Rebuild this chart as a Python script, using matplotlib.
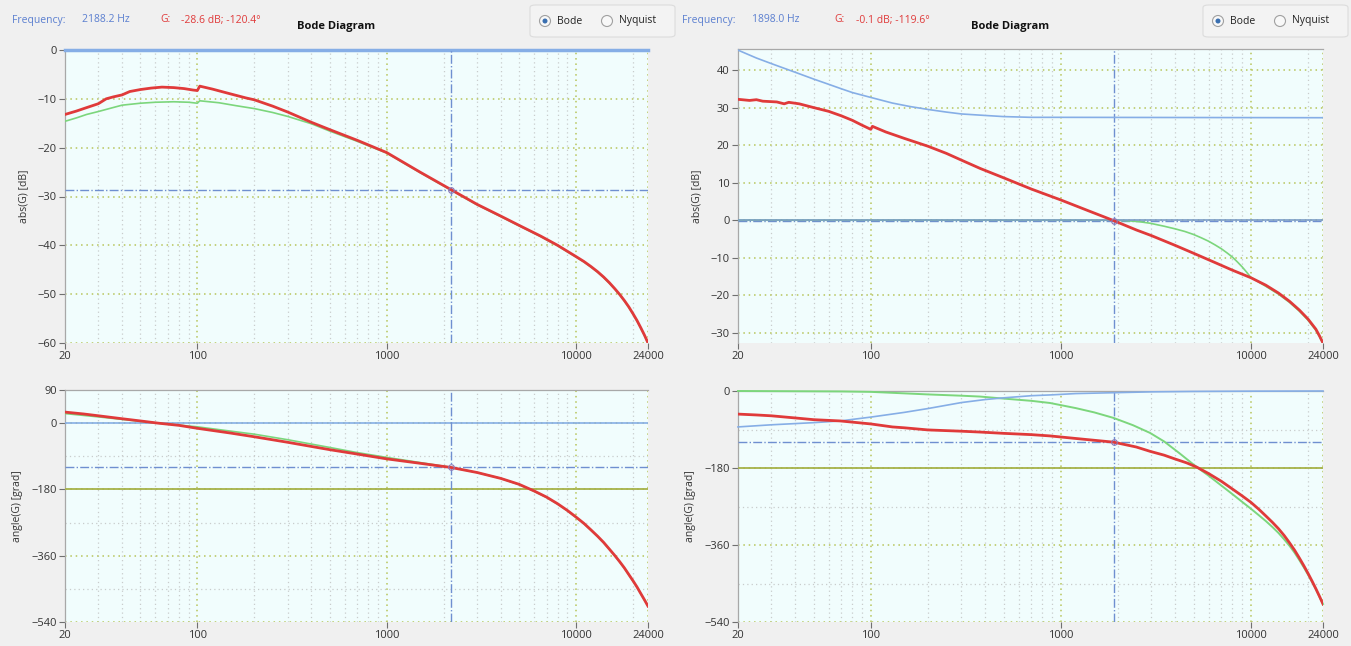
import matplotlib
matplotlib.use("Agg")
import matplotlib.pyplot as plt
from matplotlib.patches import FancyBboxPatch, Ellipse

plt.rcParams['font.family'] = ['Open Sans', 'DejaVu Sans']

# ---------- data ----------
# left: plant / cursor 2188.2 Hz
lmag_red_f = [20, 23, 26, 30, 33, 36, 40, 44, 50, 57, 65, 75, 85, 95, 100, 103, 120, 150, 180, 200,
              250, 300, 400, 500, 700, 1000, 1500, 2188, 3000, 4000, 5000, 6500, 8000, 10000, 11000, 12000,
              13000, 14000, 15000, 16000, 17000, 18000, 19000, 20000, 21000, 22000, 23000, 24000]
lmag_red = [-13.2, -12.5, -11.8, -11.0, -10.0, -9.6, -9.2, -8.5, -8.1, -7.8, -7.6, -7.7, -7.9, -8.2, -8.3,
            -7.4, -8.0, -9.0, -9.8, -10.2, -11.5, -12.7, -14.8, -16.3, -18.5, -21.0, -25.0, -28.6, -31.6,
            -34.0, -35.9, -38.1, -40.0, -42.3, -43.3, -44.35, -45.4, -46.5, -47.65, -48.85, -50.05, -51.3,
            -52.6, -54.0, -55.4, -56.9, -58.4, -60.0]
lmag_green_f = [20, 23, 26, 30, 35, 40, 50, 60, 75, 90, 100, 103, 130, 160, 200, 250, 300, 400, 500, 700,
                1000, 1500, 2188, 3000, 4000, 5000, 6500, 8000, 10000, 11000, 12000, 13000, 14000, 15000,
                16000, 17000, 18000, 19000, 20000, 21000, 22000, 23000, 24000]
lmag_green = [-14.6, -13.9, -13.2, -12.6, -11.9, -11.3, -10.9, -10.7, -10.6, -10.7, -10.9, -10.4, -10.8,
              -11.4, -12.0, -12.8, -13.6, -15.1, -16.6, -18.7, -21.1, -25.1, -28.7, -31.7, -34.1, -36.0,
              -38.2, -40.1, -42.4, -43.4, -44.45, -45.5, -46.6, -47.75, -48.95, -50.15, -51.4, -52.7,
              -54.1, -55.5, -57.0, -58.5, -60.0]

lph_red_f = [20, 25, 30, 40, 50, 62, 80, 100, 150, 200, 300, 500, 700, 1000, 1500, 2188, 3000, 4000, 5000,
             6000, 7000, 8000, 9000, 10000, 11000, 12000, 13000, 14000, 15000, 16000, 17000, 18000, 19000,
             20000, 21000, 22000, 23000, 24000]
lph_red = [30, 25, 20, 12, 6, 0, -6, -14, -27, -37, -52, -72, -84, -97, -109, -120.4, -134, -150, -166,
           -184, -201, -219, -237, -255, -272, -290, -307, -324, -342, -359, -376, -393, -411, -428, -445,
           -463, -480, -497]
lph_green_f = [20, 30, 50, 62, 100, 200, 300, 500, 700, 1000, 1500, 2188, 3000, 4000, 5000, 6000, 7000,
               8000, 9000, 10000, 11000, 12000, 13000, 14000, 15000, 16000, 17000, 18000, 19000, 20000,
               21000, 22000, 23000, 24000]
lph_green = [26, 17, 5, 0, -10, -30, -45, -66, -80, -93, -107, -120, -134, -150, -167, -185, -202, -220,
             -238, -256, -273, -291, -308, -325, -343, -360, -377, -394, -412, -429, -446, -464, -481, -497]

# right: open loop / cursor 1898.0 Hz
rmag_blue_f = [20, 25, 30, 40, 50, 60, 70, 80, 100, 130, 160, 200, 250, 300, 400, 500, 700, 1000, 24000]
rmag_blue = [45.3, 43.2, 41.7, 39.4, 37.6, 36.2, 35.0, 34.0, 32.7, 31.2, 30.3, 29.5, 28.8, 28.3, 27.9,
             27.6, 27.4, 27.4, 27.3]
rmag_red_f = [20, 23, 25, 27, 32, 35, 37, 42, 50, 60, 70, 80, 90, 100, 102, 120, 150, 200, 250, 300, 376,
              500, 700, 1000, 1400, 1898, 2500, 3000, 4000, 5000, 6500, 8000, 10000, 12000, 14000, 16000,
              18000, 20000, 22000, 23000, 24000]
rmag_red = [32.2, 31.9, 32.1, 31.7, 31.5, 31.0, 31.4, 31.0, 30.0, 29.0, 27.8, 26.6, 25.3, 24.2, 25.0, 23.5,
            21.8, 19.7, 17.8, 16.0, 13.8, 11.3, 8.3, 5.4, 2.5, -0.1, -2.6, -4.1, -6.7, -8.8, -11.3, -13.3,
            -15.3, -17.3, -19.4, -21.6, -23.9, -26.3, -29.0, -30.8, -32.7]
rmag_green_f = [20, 1898, 2200, 2600, 2950, 3500, 4000, 4500, 5000, 5500, 6000, 6500, 7000, 7500, 8000,
                8500, 9000, 9500, 10000, 12000, 14000, 16000, 18000, 20000, 22000, 23000, 24000]
rmag_green = [0, 0, -0.1, -0.4, -0.8, -1.6, -2.3, -3.0, -3.8, -4.7, -5.6, -6.6, -7.6, -8.7, -9.8,
              -11.1, -12.4, -13.8, -15.2, -17.6, -19.7, -21.9, -24.2, -26.6, -29.3, -31.0, -32.9]

rph_blue_f = [20, 30, 50, 69, 100, 150, 200, 300, 400, 500, 700, 900, 1200, 1898, 3000, 5000, 10000, 24000]
rph_blue = [-84, -79, -74, -70, -61, -50, -41, -27, -20, -16, -11, -9, -6, -4, -2, -1, -0.4, 0]
rph_red_f = [20, 25, 30, 40, 50, 69, 100, 130, 150, 200, 300, 376, 500, 700, 877, 1200, 1898, 2500, 2950,
             3500, 4000, 4600, 5200, 6000, 7000, 8000, 9000, 10000, 11000, 12000, 13000, 14000, 15000,
             16000, 17000, 18000, 19000, 20000, 21000, 22000, 23000, 24000]
rph_red = [-54, -56, -58, -63, -67, -70, -77, -84, -86, -91, -94, -96, -99, -102, -105, -111, -119.6, -131,
           -141, -150, -159, -168, -178, -193, -211, -229, -245, -260, -276, -292, -307, -322, -338, -355,
           -372, -390, -408, -426, -444, -462, -480, -498]
rph_green_f = [20, 70, 100, 200, 300, 376, 478, 700, 877, 1200, 1500, 1898, 2400, 2950, 3500, 4200, 5200,
               6000, 7000, 8000, 9000, 10000, 11000, 12000, 13000, 14000, 15000, 16000, 17000, 18000, 19000,
               20000, 21000, 22000, 23000, 24000]
rph_green = [0, -1, -2, -8, -11, -13, -17, -23, -28, -40, -50, -63, -80, -98, -118, -145, -178, -198, -221,
             -241, -259, -275, -290, -304, -318, -332, -347, -362, -378, -395, -412, -429, -446, -463, -481,
             -498]

cursors = [(2188.2, -28.6, -120.4), (1898.0, -0.1, -119.6)]
xticks = [20, 100, 1000, 10000, 24000]
xminor = [30, 40, 50, 60, 70, 80, 90, 200, 300, 400, 500, 600, 700, 800, 900,
          2000, 3000, 4000, 5000, 6000, 7000, 8000, 9000, 20000]

RED = '#e03a3a'
GREEN = '#7cd67c'
BLUE = '#86aee6'
OLIVE = '#a6b24a'
GRIDG = '#b7c45a'
GRIDM = '#c9cccc'
FACE = '#f1fdfd'
BG = '#f0f0f0'


def style(ax, ylim, yticks, yminor, ylabel):
    ax.set_facecolor(FACE)
    ax.set_xscale('log')
    ax.set_xlim(20, 24000)
    ax.set_ylim(*ylim)
    ax.set_xticks(xticks)
    ax.set_xticklabels([str(t) for t in xticks])
    ax.set_xticks(xminor, minor=True)
    ax.set_yticks(yticks)
    ax.set_yticks(yminor, minor=True)
    ax.tick_params(which='major', direction='out', length=4, color='#707070',
                   labelsize=8, labelcolor='#333333', pad=2)
    ax.tick_params(which='minor', length=0)
    ax.grid(which='major', color=GRIDG, linestyle=(0, (1, 2.5)), linewidth=1.1)
    ax.grid(which='minor', color=GRIDM, linestyle=(0, (1, 2.5)), linewidth=0.9)
    for s in ['right', 'bottom']:
        ax.spines[s].set_visible(False)
    for s in ['left', 'top']:
        ax.spines[s].set_color('#a8a8a8')
        ax.spines[s].set_linewidth(0.9)
    ax.set_ylabel(ylabel, fontsize=7.5, color='#333333', labelpad=6)


fig = plt.figure(figsize=(13.51, 6.46), dpi=100, facecolor=BG)

W, H = 1351, 646
def axes_px(x0, y0, x1, y1):
    return fig.add_axes([x0 / W, 1 - y1 / H, (x1 - x0) / W, (y1 - y0) / H])

ax1 = axes_px(65, 50, 648, 343)
ax2 = axes_px(65, 390, 648, 622)
ax3 = axes_px(738, 49, 1323, 343)
ax4 = axes_px(738, 391, 1323, 622)

style(ax1, (-60, 0), [0, -10, -20, -30, -40, -50, -60], [], 'abs(G) [dB]')
style(ax2, (-540, 90), [90, 0, -180, -360, -540], [-90, -270, -450], 'angle(G) [grad]')
style(ax3, (-32.7, 45.6), [40, 30, 20, 10, 0, -10, -20, -30], [], 'abs(G) [dB]')
style(ax4, (-540, 0), [0, -180, -360, -540], [-90, -270, -450], 'angle(G) [grad]')

# left magnitude
ax1.axhline(0, color=BLUE, lw=2.5, zorder=3, clip_on=False)
ax1.plot(lmag_green_f, lmag_green, color=GREEN, lw=1.2, zorder=4)
ax1.plot(lmag_red_f, lmag_red, color=RED, lw=2.0, zorder=5)

# left phase
ax2.axhline(0, color=BLUE, lw=1.2, zorder=3)
ax2.axhline(-180, color=OLIVE, lw=1.3, zorder=3)
ax2.plot(lph_green_f, lph_green, color=GREEN, lw=1.2, zorder=4)
ax2.plot(lph_red_f, lph_red, color=RED, lw=2.0, zorder=5)

# right magnitude
ax3.plot(rmag_green_f, rmag_green, color=GREEN, lw=1.2, zorder=4)
ax3.axhline(0, color='#7b9cc8', lw=1.2, zorder=4.5)
ax3.plot(rmag_blue_f, rmag_blue, color=BLUE, lw=1.2, zorder=4)
ax3.plot(rmag_red_f, rmag_red, color=RED, lw=2.0, zorder=5)

# right phase
ax4.axhline(-180, color=OLIVE, lw=1.3, zorder=3)
ax4.plot(rph_green_f, rph_green, color=GREEN, lw=1.4, zorder=4, clip_on=False)
ax4.plot(rph_blue_f, rph_blue, color=BLUE, lw=1.2, zorder=4, clip_on=False)
ax4.plot(rph_red_f, rph_red, color=RED, lw=2.0, zorder=5)

# cursor lines
for (axm, axp), (f, g, ph) in zip([(ax1, ax2), (ax3, ax4)], cursors):
    for ax, v in [(axm, g), (axp, ph)]:
        ax.axvline(f, color='#6f8fd0', lw=1.0, linestyle='-.', zorder=3.5)
        ax.axhline(v, color='#6f8fd0', lw=1.0, linestyle='-.', zorder=3.5)
        ax.plot([f], [v], 'o', ms=4, mfc='none', mec='#8c7ab8', mew=0.8, zorder=6)

# headers
headers = [(12, 82, 160, 181, 297, 530, 2188.2, '-28.6 dB; -120.4°'),
           (682, 752, 834, 856, 971, 1203, 1898.0, '-0.1 dB; -119.6°')]
for xf, xv, xg, xgv, xt, xb, f, gtxt in headers:
    y = 1 - 20 / H
    fig.text(xf / W, y, 'Frequency:', color='#5b7fd0', fontsize=7.5, va='center')
    fig.text(xv / W, y, f'{f:.1f} Hz', color='#5b7fd0', fontsize=7.5, va='center')
    fig.text(xg / W, y, 'G:', color='#e03a3a', fontsize=7.5, va='center')
    fig.text(xgv / W, y, gtxt, color='#e03a3a', fontsize=7.5, va='center')
    fig.text(xt / W, 1 - 26 / H, 'Bode Diagram', color='#111111', fontsize=8, va='center',
             fontweight='bold')
    box = FancyBboxPatch((xb / W, 1 - 37 / H), 145 / W, 32 / H, boxstyle='round,pad=0,rounding_size=0.004',
                         transform=fig.transFigure, facecolor='#f3f3f3', edgecolor='#dcdcdc', lw=0.8)
    fig.patches.append(box)
    for dx, label, sel in [(15, 'Bode', True), (77, 'Nyquist', False)]:
        cx = (xb + dx) / W
        cy = 1 - 21 / H
        fig.patches.append(Ellipse((cx, cy), 11 / W, 11 / H, transform=fig.transFigure,
                                   facecolor='#f8f8f8', edgecolor='#a0a0a0', lw=0.8))
        if sel:
            fig.patches.append(Ellipse((cx, cy), 5 / W, 5 / H, transform=fig.transFigure,
                                       facecolor='#3a6fb0', edgecolor='none'))
        fig.text(cx + 12 / W, cy, label, fontsize=7.5, color='#222222', va='center')

fig.savefig('out.png', dpi=100, facecolor=BG)
